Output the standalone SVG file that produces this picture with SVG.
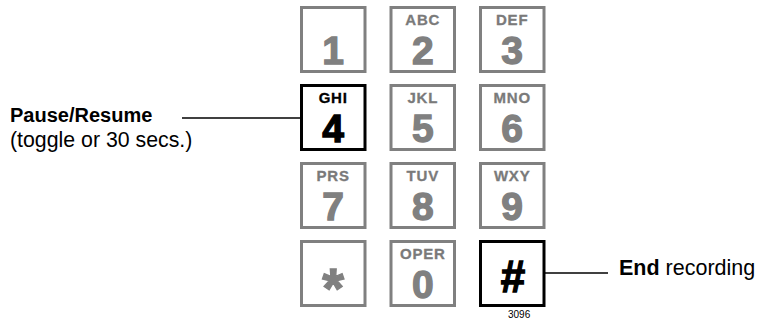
<svg xmlns="http://www.w3.org/2000/svg" width="773" height="320" viewBox="0 0 773 320">
<style>
.k{fill:#fff;stroke:#808080;stroke-width:3}
.kb{fill:#fff;stroke:#000;stroke-width:3}
.l{font-family:"Liberation Sans",Arial,sans-serif;font-weight:bold;font-size:15px;letter-spacing:0.8px;text-anchor:middle;fill:#7a7a7a;stroke:#7a7a7a;stroke-width:0.3}
.d{font-family:"Liberation Sans",Arial,sans-serif;font-weight:bold;font-size:39px;text-anchor:middle;fill:#808080;stroke:#808080;stroke-width:1.3}
.b{fill:#000;stroke:#000}
.t{font-family:"Liberation Sans",Arial,sans-serif;font-size:20px;fill:#000}
.c{stroke:#000;stroke-width:1.5;fill:none}
</style>
<g id="key1"><rect class="k" x="301.5" y="7.5" width="63.5" height="64"/><text class="d" x="333.2" y="63.5">1</text></g>
<g id="key2"><rect class="k" x="391" y="7.5" width="63.5" height="64"/><text class="l" x="422.8" y="24.5">ABC</text><text class="d" x="422.8" y="63.5">2</text></g>
<g id="key3"><rect class="k" x="480.5" y="7.5" width="63.5" height="64"/><text class="l" x="512.2" y="24.5">DEF</text><text class="d" x="512.2" y="63.5">3</text></g>
<g id="key4"><rect class="kb" x="301.5" y="85.5" width="63.5" height="64"/><text class="l b" x="333.2" y="102.5">GHI</text><text class="d b" x="333.2" y="141.5">4</text></g>
<g id="key5"><rect class="k" x="391" y="85.5" width="63.5" height="64"/><text class="l" x="422.8" y="102.5">JKL</text><text class="d" x="422.8" y="141.5">5</text></g>
<g id="key6"><rect class="k" x="480.5" y="85.5" width="63.5" height="64"/><text class="l" x="512.2" y="102.5">MNO</text><text class="d" x="512.2" y="141.5">6</text></g>
<g id="key7"><rect class="k" x="301.5" y="163.5" width="63.5" height="64"/><text class="l" x="333.2" y="180.5">PRS</text><text class="d" x="333.2" y="219.5">7</text></g>
<g id="key8"><rect class="k" x="391" y="163.5" width="63.5" height="64"/><text class="l" x="422.8" y="180.5">TUV</text><text class="d" x="422.8" y="219.5">8</text></g>
<g id="key9"><rect class="k" x="480.5" y="163.5" width="63.5" height="64"/><text class="l" x="512.2" y="180.5">WXY</text><text class="d" x="512.2" y="219.5">9</text></g>
<g id="keystar"><rect class="k" x="301.5" y="241.5" width="63.5" height="64"/><text class="d" style="font-size:56px" x="333.2" y="307">*</text></g>
<g id="key0"><rect class="k" x="391" y="241.5" width="63.5" height="64"/><text class="l" x="422.8" y="258.5">OPER</text><text class="d" x="422.8" y="297.5">0</text></g>
<g id="keyhash"><rect class="kb" x="480.5" y="241.5" width="63.5" height="64"/><text class="d b" style="font-size:44px" x="513" y="292">#</text></g>
<g id="connectors">
<line class="c" x1="182" y1="118" x2="301" y2="118"/>
<line class="c" x1="545" y1="273" x2="608" y2="273"/>
</g>
<g id="pause"><text class="t" x="10" y="122" style="font-weight:bold">Pause/Resume</text><text class="t" style="font-size:21.3px" x="10" y="147">(toggle or 30 secs.)</text></g>
<g id="end"><text class="t" style="font-size:21.5px" x="619" y="275"><tspan style="font-weight:bold">End</tspan> recording</text></g>
<g id="code"><text class="t" style="font-size:10px" x="508" y="318">3096</text></g>
</svg>
